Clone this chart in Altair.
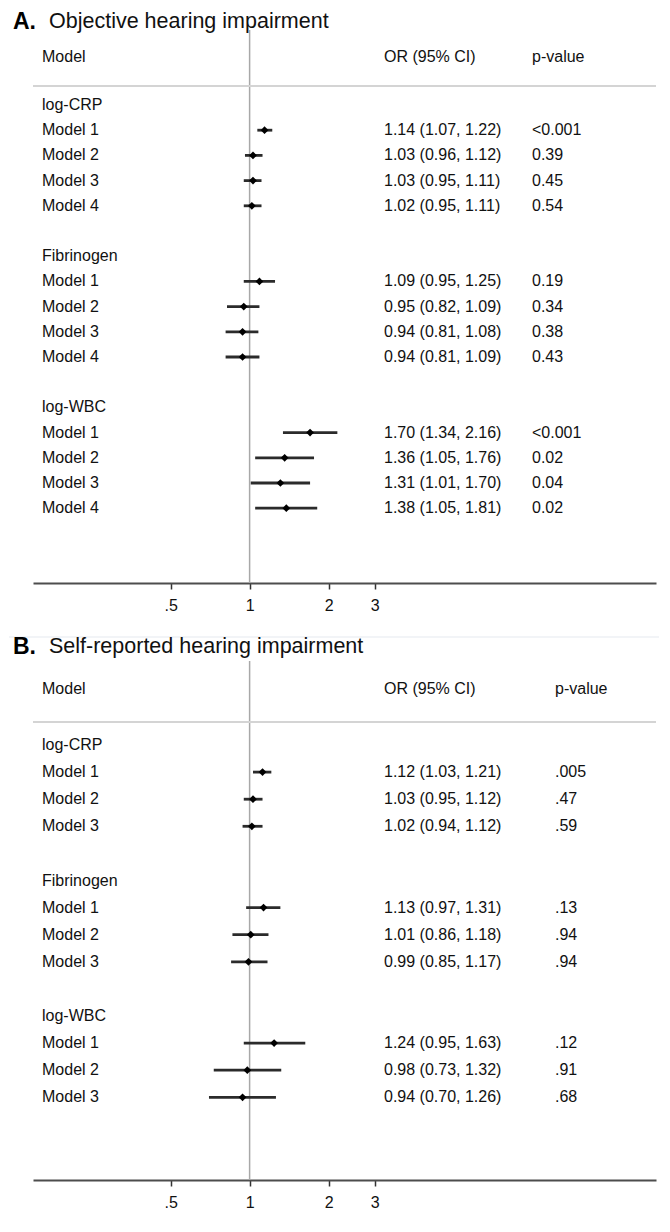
import altair as alt
import pandas as pd

FONT = "Liberation Sans"

groups = ["log-CRP", "Fibrinogen", "log-WBC"]
headers = ["Model", "OR (95% CI)", "p-value"]

# Panel A: objective hearing impairment
a_models = ["Model 1", "Model 2", "Model 3", "Model 4"]
a_or = [1.14, 1.03, 1.03, 1.02, 1.09, 0.95, 0.94, 0.94, 1.70, 1.36, 1.31, 1.38]
a_lo = [1.07, 0.96, 0.95, 0.95, 0.95, 0.82, 0.81, 0.81, 1.34, 1.05, 1.01, 1.05]
a_hi = [1.22, 1.12, 1.11, 1.11, 1.25, 1.09, 1.08, 1.09, 2.16, 1.76, 1.70, 1.81]
a_p = ["<0.001", "0.39", "0.45", "0.54", "0.19", "0.34", "0.38", "0.43",
       "<0.001", "0.02", "0.04", "0.02"]

# Panel B: self-reported hearing impairment
b_models = ["Model 1", "Model 2", "Model 3"]
b_or = [1.12, 1.03, 1.02, 1.13, 1.01, 0.99, 1.24, 0.98, 0.94]
b_lo = [1.03, 0.95, 0.94, 0.97, 0.86, 0.85, 0.95, 0.73, 0.70]
b_hi = [1.21, 1.12, 1.12, 1.31, 1.18, 1.17, 1.63, 1.32, 1.26]
b_p = [".005", ".47", ".59", ".13", ".94", ".94", ".12", ".91", ".68"]

tick_values = [0.5, 1, 2, 3]
tick_labels = [".5", "1", "2", "3"]
x_domain = [0.1494, 35.4]

PANEL_W = 623

label_expr = "''"
for v, l in zip(reversed(tick_values), reversed(tick_labels)):
    label_expr = f"datum.value == {v} ? '{l}' : ({label_expr})"

x_scale = alt.Scale(type="log", domain=x_domain, nice=False)
x_axis = alt.Axis(values=tick_values, labelExpr=label_expr, title=None, grid=False,
                  domainColor="#4d4d4d", domainWidth=2, tickColor="#333333",
                  tickWidth=1.5, tickSize=6, labelFont=FONT, labelFontSize=16,
                  labelColor="#111111", labelPadding=8)


def panel(letter, title, models, ors, los, his, ps, L):
    n = len(models)
    step = n + 2
    ppr, row0 = L["ppr"], L["row0"]

    def r(px):
        return (px - row0) / ppr

    yscale = alt.Scale(domain=[r(L["top"]), r(L["bottom"])], reverse=True,
                       nice=False, zero=False)
    height = L["bottom"] - L["top"]

    group_rows, est_rows = [], []
    for gi, g in enumerate(groups):
        base = gi * step
        group_rows.append({"row": base, "label": g})
        for mi, m in enumerate(models):
            k = gi * n + mi
            est_rows.append({
                "row": base + mi + 1, "label": m, "est": ors[k], "lo": los[k],
                "hi": his[k],
                "ci": f"{ors[k]:.2f} ({los[k]:.2f}, {his[k]:.2f})", "p": ps[k]})
    gdf = pd.DataFrame(group_rows)
    edf = pd.DataFrame(est_rows)

    def Y(field="row"):
        return alt.Y(f"{field}:Q", scale=yscale, axis=None)

    def X(field):
        return alt.X(f"{field}:Q", scale=x_scale, axis=x_axis)

    txt = dict(font=FONT, fontSize=16, color="#111111", align="left", baseline="middle")

    ref = alt.Chart(pd.DataFrame({"x": [1]})).mark_rule(
        color="#a8a8a8", strokeWidth=1.5).encode(x=X("x"))

    hline = alt.Chart(pd.DataFrame({"row": [r(L["line"])]})).mark_rule(
        color="#d4d4d4", strokeWidth=2).encode(
        x=alt.value(0), x2=alt.value(PANEL_W), y=Y())

    layers = [ref, hline]
    if "sep" in L:
        sep = alt.Chart(pd.DataFrame({"row": [r(L["sep"])]})).mark_rule(
            color="#eef1f4", strokeWidth=1.5).encode(
            x=alt.value(-24), x2=alt.value(PANEL_W + 3), y=Y())
        layers.append(sep)

    ci = alt.Chart(edf).mark_rule(color="#2b2b2b", strokeWidth=2.8).encode(
        x=X("lo"), x2="hi", y=Y())
    pts = alt.Chart(edf).mark_point(shape="diamond", filled=True, size=60,
                                    color="black", opacity=1).encode(x=X("est"), y=Y())

    glab = alt.Chart(gdf).mark_text(**txt).encode(
        x=alt.value(L["lab_x"]), y=Y(), text="label:N")
    mlab = alt.Chart(edf).mark_text(**txt).encode(
        x=alt.value(L["lab_x"]), y=Y(), text="label:N")
    citxt = alt.Chart(edf).mark_text(**txt).encode(
        x=alt.value(L["or_x"]), y=Y(), text="ci:N")
    ptxt = alt.Chart(edf).mark_text(**txt).encode(
        x=alt.value(L["p_x"]), y=Y(), text="p:N")

    hdf = pd.DataFrame({"row": [r(L["header"])] * 3, "label": headers,
                        "xpos": [L["lab_x"], L["or_x"], L["p_x"]]})
    hdr = alt.Chart(hdf).mark_text(**txt).encode(
        x=alt.X("xpos:Q", scale=None, axis=None), y=Y(), text="label:N")

    tdf = pd.DataFrame({"row": [r(L["title"])], "letter": [letter], "title": [title]})
    tl = alt.Chart(tdf).mark_text(font=FONT, fontSize=23, fontWeight="bold",
                                  color="black", align="left", baseline="middle").encode(
        x=alt.value(-20), y=Y(), text="letter:N")
    tt = alt.Chart(tdf).mark_text(font=FONT, fontSize=21.5, color="#111111",
                                  align="left", baseline="middle").encode(
        x=alt.value(16), y=Y(), text="title:N")

    layers += [ci, pts, glab, mlab, citxt, ptxt, hdr, tl, tt]
    return alt.layer(*layers).properties(width=PANEL_W, height=height)


LA = dict(ppr=25.2, row0=104, top=29, bottom=582, title=21, header=56, line=85,
          lab_x=9, or_x=351, p_x=499, sep=636)
LB = dict(ppr=27.1, row0=744, top=660, bottom=1179, title=646, header=688, line=721,
          lab_x=9, or_x=351, p_x=522)

pa = panel("A.", "Objective hearing impairment", a_models, a_or, a_lo, a_hi, a_p, LA)
pb = panel("B.", "Self-reported hearing impairment", b_models, b_or, b_lo, b_hi, b_p, LB)

chart = alt.vconcat(pa, pb, spacing=LB["top"] - LA["bottom"], bounds="flush").configure_view(
    stroke=None).properties(padding={"left": 0, "top": 2, "right": 0, "bottom": 5},
                            background="white")

chart.save("out.html", embed_options={"renderer": "svg", "actions": False})
